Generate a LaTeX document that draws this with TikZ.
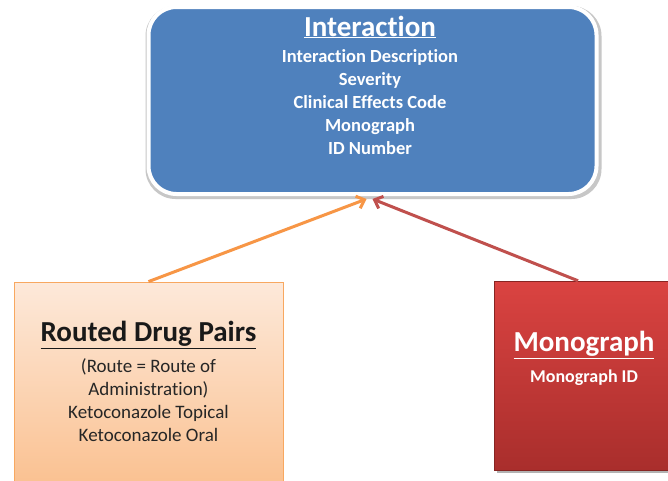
\documentclass[tikz,border=0pt]{standalone}
\usepackage{fontspec}
\setmainfont{Carlito}[Ligatures=NoCommon]
\usetikzlibrary{arrows.meta,calc}
\definecolor{blueA}{HTML}{4F81BD}
\definecolor{peachT}{HTML}{FDE9DA}
\definecolor{peachB}{HTML}{FAC08F}
\definecolor{peachL}{HTML}{F8A860}
\definecolor{redT}{HTML}{DA4341}
\definecolor{redB}{HTML}{A92E2C}
\definecolor{arrO}{HTML}{F79646}
\definecolor{arrR}{HTML}{C0504D}
\tikzset{
  bluebox/.style={rectangle, rounded corners=28pt, minimum width=448pt, minimum height=187pt, fill=blueA, draw=white, line width=4pt},
  blueshadow/.style={rectangle, rounded corners=30pt, minimum width=456pt, minimum height=193pt, fill=black!22},
  peachbox/.style={rectangle, minimum width=269pt, minimum height=208pt, top color=peachT, bottom color=peachB, draw=peachL, line width=0.8pt},
  redbox/.style={rectangle, minimum width=186pt, minimum height=189pt, top color=redT, bottom color=redB, draw=redB!80!black, line width=0.5pt},
  redshadow/.style={rectangle, minimum width=186pt, minimum height=189pt, fill=black!30},
  titleW/.style={text=white, font=\fontsize{29}{32}\selectfont\bfseries, inner sep=0pt},
  titleK/.style={text=black!90, font=\fontsize{29}{32}\selectfont\bfseries, inner sep=0pt},
  bodyW/.style={text=white, font=\fontsize{18.5}{23}\selectfont\bfseries, align=center, inner sep=0pt},
  bodyK/.style={text=black!85, font=\fontsize{19}{23}\selectfont, align=center, inner sep=0pt},
  conn/.style={line width=3pt, -{Straight Barb[length=7pt,width=13pt,line width=3pt]}}
}
\begin{document}
\begin{tikzpicture}[x=1pt,y=-1pt]
\useasboundingbox (0,0) rectangle (668,480);
\clip (0,0) rectangle (668,480);
\fill[white] (0,0) rectangle (668,480);
% Interaction box
\node[blueshadow] (intershadow) at (373.5,102.5) {};
\node[bluebox] (inter) at (372.5,100.5) {};
\node[titleW] (interT) at (370,27) {\underline{Interaction}};
\node[bodyW] (interB) at (370,102) {Interaction Description\\Severity\\Clinical Effects Code\\Monograph\\ID Number};
% Routed drug pairs box
\node[peachbox] (rdp) at (148.5,386) {};
\node[titleK] (rdpT) at (148.5,335) {\underline{Routed Drug Pairs}};
\node[bodyK] (rdpB) at (148.5,400.5) {(Route = Route of\\Administration)\\Ketoconazole Topical\\Ketoconazole Oral};
% Monograph box
\node[redshadow] (monoshadow) at (590,378.5) {};
\node[redbox] (mono) at (587,375.5) {};
\node[titleW] (monoT) at (584,345) {\underline{Monograph}};
\node[bodyW, font=\fontsize{18}{20}\selectfont\bfseries] (monoB) at (584,378) {Monograph ID};
% connectors
\draw[conn, arrO] (rdp.north) -- ($(inter.south)+(-6,3)$);
\draw[conn, arrR] ($(mono.north)+(-9,0)$) -- ($(inter.south)+(0,3)$);
\end{tikzpicture}
\end{document}
